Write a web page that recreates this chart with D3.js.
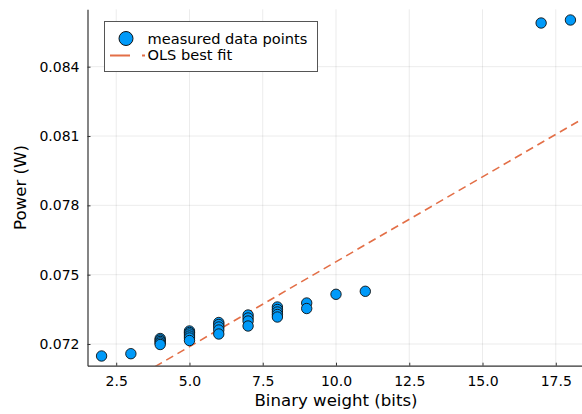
<!DOCTYPE html>
<html>
<head>
<meta charset="utf-8">
<script src="https://cdn.jsdelivr.net/npm/d3@7/dist/d3.min.js"></script>
<style>
  html, body { margin: 0; padding: 0; background: #fff; }
  svg { display: block; font-family: "DejaVu Sans", sans-serif; }
</style>
</head>
<body>
<svg id="chart" width="582" height="414"></svg>
<script>
// Measured power per binary weight (bits)
const bitsX = [2, 3,
  4, 4, 4, 4, 4,
  5, 5, 5, 5, 5, 5,
  6, 6, 6, 6, 6,
  7, 7, 7, 7,
  8, 8, 8, 8, 8,
  9, 9,
  10, 11, 17, 18];
const powerW = [0.071481, 0.071580,
  0.072238, 0.072173, 0.072108, 0.072043, 0.071978,
  0.072563, 0.072498, 0.072433, 0.072346, 0.072260, 0.072151,
  0.072930, 0.072844, 0.072736, 0.072606, 0.072433,
  0.073255, 0.073125, 0.072995, 0.072779,
  0.073601, 0.073493, 0.073385, 0.073277, 0.073168,
  0.073774, 0.073536,
  0.074151, 0.074281, 0.085891, 0.086021];

// OLS fit coefficients: power = intercept + slope * bits
const olsIntercept = 0.06821;
const olsSlope = 0.000735;

const xTicks = [2.5, 5.0, 7.5, 10.0, 12.5, 15.0, 17.5];
const yTicks = [0.072, 0.075, 0.078, 0.081, 0.084];
const legendLabels = ["measured data points", "OLS best fit"];

const blue = "#009AF9";
const orange = "#E36F47";
const axisColor = "#333";

const svg = d3.select("#chart");
const plot = { left: 87.5, right: 584.5, top: 9.3, bottom: 365.7 };

const x = d3.scaleLinear().domain([1.52, 18.48]).range([plot.left, plot.right]);
const y = d3.scaleLinear().domain([0.071061, 0.086484]).range([plot.bottom, plot.top]);

// grid
const grid = svg.append("g");
grid.selectAll("line.gx").data(xTicks).join("line")
  .attr("x1", d => x(d)).attr("x2", d => x(d))
  .attr("y1", plot.top).attr("y2", plot.bottom)
  .attr("stroke", "#000").attr("stroke-opacity", 0.08).attr("stroke-width", 1);
grid.selectAll("line.gy").data(yTicks).join("line")
  .attr("y1", d => y(d)).attr("y2", d => y(d))
  .attr("x1", plot.left).attr("x2", plot.right)
  .attr("stroke", "#000").attr("stroke-opacity", 0.08).attr("stroke-width", 1);

// clip for data
svg.append("clipPath").attr("id", "clip").append("rect")
  .attr("x", plot.left).attr("y", plot.top)
  .attr("width", plot.right - plot.left).attr("height", plot.bottom - plot.top);

// OLS line across the x domain
const fitLine = d3.line().x(d => x(d)).y(d => y(olsIntercept + olsSlope * d));
svg.append("path")
  .datum(x.domain())
  .attr("clip-path", "url(#clip)")
  .attr("d", fitLine)
  .attr("fill", "none")
  .attr("stroke", orange)
  .attr("stroke-width", 1.6)
  .attr("stroke-dasharray", "8,5");

// data points
svg.append("g").selectAll("circle").data(bitsX.map((b, i) => [b, powerW[i]])).join("circle")
  .attr("cx", d => x(d[0])).attr("cy", d => y(d[1]))
  .attr("r", 5.2)
  .attr("fill", blue)
  .attr("stroke", "#111")
  .attr("stroke-width", 0.9);

// axes
const xAxis = d3.axisBottom(x).tickValues(xTicks).tickFormat(d3.format(".1f"))
  .tickSizeInner(-3).tickSizeOuter(0).tickPadding(10);
const gx = svg.append("g").attr("transform", `translate(0,${plot.bottom})`).call(xAxis);
const yAxis = d3.axisLeft(y).tickValues(yTicks).tickFormat(d3.format(".3f"))
  .tickSizeInner(-3).tickSizeOuter(0).tickPadding(8);
const gy = svg.append("g").attr("transform", `translate(${plot.left},0)`).call(yAxis);
[gx, gy].forEach(g => {
  g.select(".domain").attr("stroke", axisColor).attr("stroke-width", 1.2);
  g.selectAll(".tick line").attr("stroke", axisColor).attr("stroke-width", 1);
  g.selectAll(".tick text").attr("fill", "#000").attr("font-size", 14)
    .attr("font-family", "DejaVu Sans, sans-serif");
});

// axis titles
svg.append("text")
  .attr("x", (plot.left + plot.right) / 2).attr("y", 406)
  .attr("text-anchor", "middle").attr("font-size", 16.6)
  .text("Binary weight (bits)");
svg.append("text")
  .attr("transform", `translate(25.5,${(plot.top + plot.bottom) / 2}) rotate(-90)`)
  .attr("text-anchor", "middle").attr("font-size", 16.6)
  .text("Power (W)");

// legend
const lg = svg.append("g");
lg.append("rect")
  .attr("x", 104.5).attr("y", 21.5).attr("width", 213).attr("height", 50)
  .attr("fill", "#fff").attr("stroke", "#555").attr("stroke-width", 1);
lg.append("circle").attr("cx", 126).attr("cy", 38.5).attr("r", 7)
  .attr("fill", blue).attr("stroke", "#111").attr("stroke-width", 1);
lg.append("line").attr("x1", 110).attr("x2", 145).attr("y1", 55.5).attr("y2", 55.5)
  .attr("stroke", orange).attr("stroke-width", 1.8).attr("stroke-dasharray", "20,12");
lg.selectAll("text").data(legendLabels).join("text")
  .attr("x", 147.5).attr("y", (d, i) => 43.8 + i * 16.6)
  .attr("font-size", 14.6)
  .text(d => d);
</script>
</body>
</html>
